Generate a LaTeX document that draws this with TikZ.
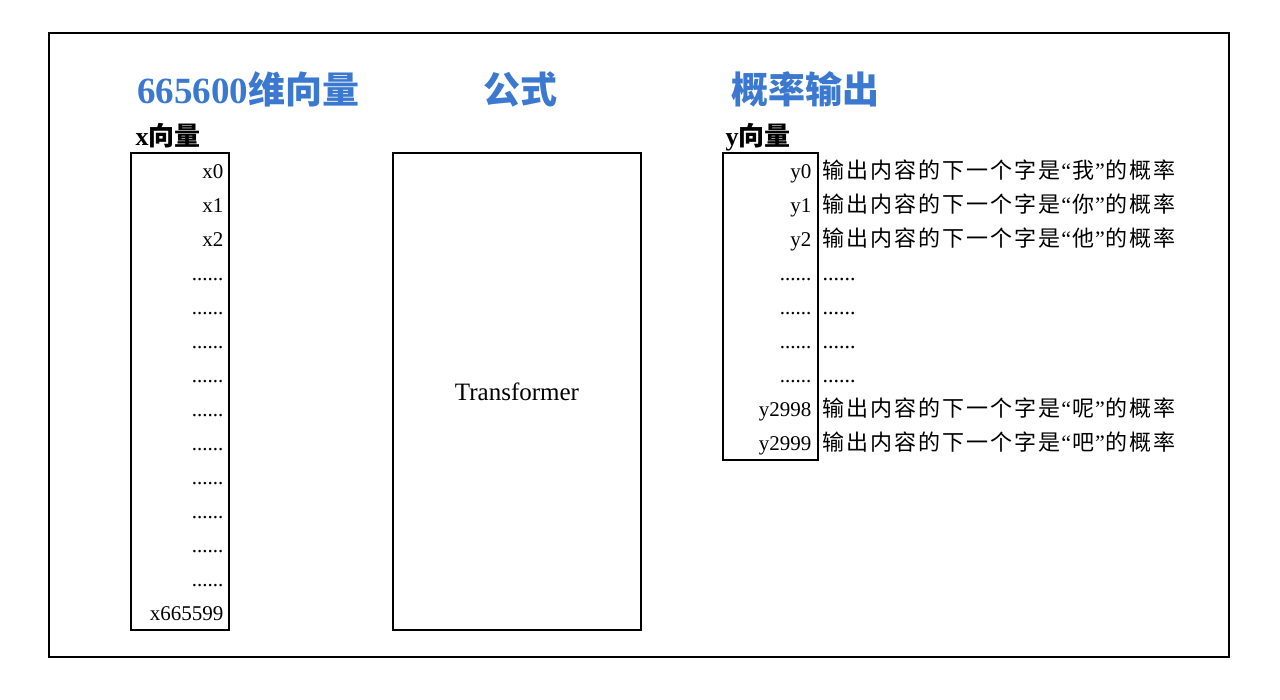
\documentclass[tikz,border=0pt]{standalone}
\usepackage{fontspec}
\setmainfont{Liberation Serif}
\newfontfamily\cjk{Noto Sans CJK SC}
\newfontfamily\cjkwide[LetterSpace=9]{Noto Sans CJK SC}
\usetikzlibrary{positioning}
\definecolor{titleblue}{HTML}{3B78CF}

\begin{document}
\begin{tikzpicture}[x=1pt,y=-1pt,line width=1.2pt,
	vecbox/.style={draw, inner sep=0pt},
	headline/.style={font=\fontsize{37}{42}\selectfont\bfseries, text=titleblue, anchor=base, inner sep=0pt},
	subhead/.style={font=\fontsize{26}{30}\selectfont\bfseries, anchor=base west, inner sep=0pt},
	entry/.style={font=\fontsize{21}{24}\selectfont, anchor=base east, inner sep=0pt},
	note/.style={font=\fontsize{22}{24}\selectfont, anchor=base west, inner sep=0pt}]

	% sizes to draw consistently
	\def\rowgap{34}
	\def\firstrow{178.5}
	% the line of the row text
	\def\probtext#1{{\cjkwide 输出内容的下一个字是}\kern1pt“\kern1pt{\cjkwide #1}\kern1pt”\kern1pt{\cjkwide 的概率}}

	\useasboundingbox (0,0) rectangle (1280,699);
	% outer frame
	\draw (49,33) rectangle (1229,657);

	% the three boxes
	\node[vecbox, minimum width=98pt, minimum height=477pt] (xvec) at (180,391.5) {};
	\node[vecbox, minimum width=248pt, minimum height=477pt] (formula) at (517,391.5) {};
	\node[vecbox, minimum width=95pt, minimum height=307pt] (yvec) at (770.5,306.5) {};

	% headings
	\node[headline] (xhead) at (248,103) {665600{\cjk 维向量}};
	\node[headline] (fhead) at (520,103) {\cjk 公式};
	\node[headline] (yhead) at (805,103) {\cjk 概率输出};
	\node[subhead] (xsub) at (135,145) {x{\cjk 向量}};
	\node[subhead] (ysub) at (725,145) {y{\cjk 向量}};

	% x entries
	\node[entry] (x0) at (224,\firstrow) {x0};
	\node[entry] (x1) at (224,\firstrow+\rowgap) {x1};
	\node[entry] (x2) at (224,\firstrow+2*\rowgap) {x2};
	\foreach \i in {3,...,12}
		\node[entry] (xd\i) at (224,\firstrow+\i*\rowgap) {......};
	\node[entry] (xlast) at (224,\firstrow+13*\rowgap) {x665599};

	% the formula
	\node[font=\fontsize{25}{28}\selectfont] (tf) at (formula.center) {Transformer};

	% y entries and what they mean
	\node[entry] (y0) at (812,\firstrow) {y0};
	\node[entry] (y1) at (812,\firstrow+\rowgap) {y1};
	\node[entry] (y2) at (812,\firstrow+2*\rowgap) {y2};
	\foreach \i in {3,...,6}
	{
		\node[entry] (yd\i) at (812,\firstrow+\i*\rowgap) {......};
		\node[note] (nd\i) at (822,\firstrow+\i*\rowgap) {......};
	}
	\node[entry] (y2998) at (812,\firstrow+7*\rowgap) {y2998};
	\node[entry] (y2999) at (812,\firstrow+8*\rowgap) {y2999};
	\node[note] (n0) at (822,\firstrow) {\probtext{我}};
	\node[note] (n1) at (822,\firstrow+\rowgap) {\probtext{你}};
	\node[note] (n2) at (822,\firstrow+2*\rowgap) {\probtext{他}};
	\node[note] (n2998) at (822,\firstrow+7*\rowgap) {\probtext{呢}};
	\node[note] (n2999) at (822,\firstrow+8*\rowgap) {\probtext{吧}};

\end{tikzpicture}
\end{document}
